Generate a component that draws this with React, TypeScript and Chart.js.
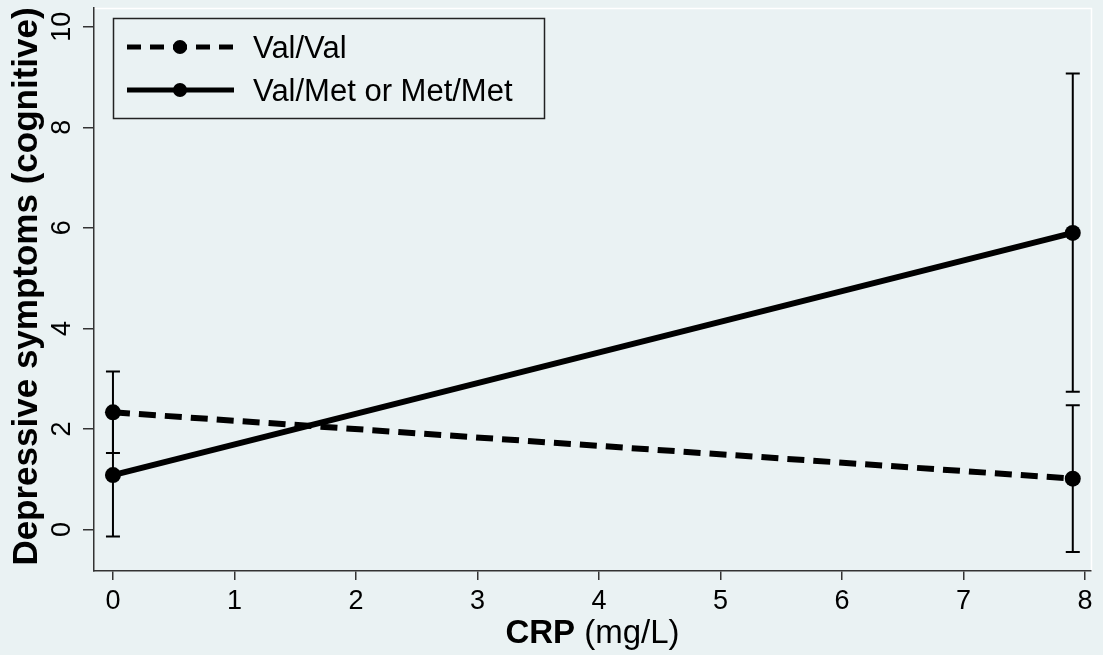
import React, { useEffect, useRef } from "react";
import { Chart, registerables } from "chart.js";

Chart.register(...registerables);

// ---- data ----
const crpValues = [0, 7.9];
const seriesLabels = ["Val/Val", "Val/Met or Met/Met"];
const valValMean = [2.33, 1.01];
const valValLow = [1.52, -0.45];
const valValHigh = [3.14, 2.47];
const valMetMean = [1.08, 5.9];
const valMetLow = [-0.14, 2.74];
const valMetHigh = [2.31, 9.07];
const xTicks = [0, 1, 2, 3, 4, 5, 6, 7, 8];
const yTicks = [0, 2, 4, 6, 8, 10];
const xTitleBold = "CRP";
const xTitleRest = " (mg/L)";
const yTitle = "Depressive symptoms (cognitive)";

const BG = "#EAF2F3";
const FONT = "'Liberation Sans', Arial, Helvetica, sans-serif";
const AXIS = "#333333";
const DASH = [17, 9];

const errorSets = [
  { low: valValLow, high: valValHigh },
  { low: valMetLow, high: valMetHigh },
];

const customPlugin = {
  id: "stataLook",
  beforeDraw(chart: any) {
    const ctx = chart.ctx;
    ctx.save();
    ctx.fillStyle = BG;
    ctx.fillRect(0, 0, chart.width, chart.height);
    const a = chart.chartArea;
    ctx.strokeStyle = "#FFFFFF";
    ctx.lineWidth = 1.5;
    ctx.beginPath();
    ctx.moveTo(a.left, a.top + 0.5);
    ctx.lineTo(a.right + 0.5, a.top + 0.5);
    ctx.lineTo(a.right + 0.5, a.bottom);
    ctx.stroke();
    ctx.restore();
  },
  beforeDatasetsDraw(chart: any) {
    const ctx = chart.ctx;
    const xs = chart.scales.x;
    const ys = chart.scales.y;
    ctx.save();
    ctx.strokeStyle = "#000";
    ctx.lineWidth = 2;
    ctx.setLineDash([]);
    errorSets.forEach((s) => {
      crpValues.forEach((xv, i) => {
        const px = xs.getPixelForValue(xv);
        const y1 = ys.getPixelForValue(s.low[i]);
        const y2 = ys.getPixelForValue(s.high[i]);
        ctx.beginPath();
        ctx.moveTo(px, y1);
        ctx.lineTo(px, y2);
        ctx.moveTo(px - 7, y1);
        ctx.lineTo(px + 7, y1);
        ctx.moveTo(px - 7, y2);
        ctx.lineTo(px + 7, y2);
        ctx.stroke();
      });
    });
    ctx.restore();
  },
  afterDraw(chart: any) {
    const ctx = chart.ctx;
    const xs = chart.scales.x;
    const ys = chart.scales.y;
    const a = chart.chartArea;
    ctx.save();
    ctx.fillStyle = "#000";

    // x tick labels
    ctx.font = `27px ${FONT}`;
    ctx.textAlign = "center";
    ctx.textBaseline = "alphabetic";
    xTicks.forEach((v) => {
      ctx.fillText(String(v), xs.getPixelForValue(v), 609);
    });

    // y tick labels (rotated)
    yTicks.forEach((v) => {
      ctx.save();
      ctx.translate(70, ys.getPixelForValue(v));
      ctx.rotate(-Math.PI / 2);
      ctx.textAlign = "center";
      ctx.fillText(String(v), 0, 0);
      ctx.restore();
    });

    // y title
    ctx.save();
    ctx.font = `bold 35px ${FONT}`;
    ctx.translate(37, (a.top + a.bottom) / 2 - 3);
    ctx.rotate(-Math.PI / 2);
    ctx.textAlign = "center";
    ctx.fillText(yTitle, 0, 0);
    ctx.restore();

    // x title (mixed weight)
    ctx.textAlign = "left";
    ctx.font = `bold 33px ${FONT}`;
    const wb = ctx.measureText(xTitleBold).width;
    ctx.font = `33px ${FONT}`;
    const wr = ctx.measureText(xTitleRest).width;
    const cx = (a.left + a.right) / 2;
    const sx = cx - (wb + wr) / 2;
    ctx.font = `bold 33px ${FONT}`;
    ctx.fillText(xTitleBold, sx, 643);
    ctx.font = `33px ${FONT}`;
    ctx.fillText(xTitleRest, sx + wb, 643);

    // legend
    ctx.strokeStyle = "#222";
    ctx.lineWidth = 1.5;
    ctx.setLineDash([]);
    ctx.strokeRect(113.5, 18.5, 431, 100);
    const rows = [47, 90];
    chart.data.datasets.forEach((ds: any, i: number) => {
      const ly = rows[i];
      ctx.strokeStyle = "#000";
      ctx.lineWidth = 5;
      ctx.setLineDash(ds.borderDash ? [14, 9] : []);
      ctx.beginPath();
      ctx.moveTo(127, ly);
      ctx.lineTo(234, ly);
      ctx.stroke();
      ctx.setLineDash([]);
      ctx.beginPath();
      ctx.arc(180, ly, 7, 0, Math.PI * 2);
      ctx.fillStyle = "#000";
      ctx.fill();
      ctx.font = `31px ${FONT}`;
      ctx.textAlign = "left";
      ctx.textBaseline = "alphabetic";
      ctx.fillText(ds.label, 253, ly + 11);
    });
    ctx.restore();
  },
};

export default function App() {
  const ref = useRef<HTMLCanvasElement | null>(null);

  useEffect(() => {
    if (!ref.current) return;
    const mk = (ys: number[]) => crpValues.map((x, i) => ({ x, y: ys[i] }));
    const chart = new Chart(ref.current, {
      type: "line",
      data: {
        datasets: [
          {
            label: seriesLabels[0],
            data: mk(valValMean),
            borderColor: "#000",
            backgroundColor: "#000",
            borderWidth: 6,
            borderDash: DASH,
            borderCapStyle: "butt",
            pointRadius: 8,
            pointBackgroundColor: "#000",
            pointBorderWidth: 0,
            tension: 0,
            fill: false,
          },
          {
            label: seriesLabels[1],
            data: mk(valMetMean),
            borderColor: "#000",
            backgroundColor: "#000",
            borderWidth: 6,
            borderCapStyle: "butt",
            pointRadius: 8,
            pointBackgroundColor: "#000",
            pointBorderWidth: 0,
            tension: 0,
            fill: false,
          },
        ],
      },
      options: {
        responsive: false,
        animation: false,
        devicePixelRatio: 1,
        layout: { padding: { top: 3, right: 12, left: 0, bottom: 0 } },
        plugins: {
          legend: { display: false },
          tooltip: { enabled: false },
          title: { display: false },
        },
        scales: {
          x: {
            type: "linear",
            min: -0.156,
            max: 8.05,
            afterBuildTicks: (s: any) => {
              s.ticks = xTicks.map((v) => ({ value: v }));
            },
            afterFit: (s: any) => {
              s.height = 84;
            },
            ticks: { display: false },
            grid: {
              drawOnChartArea: false,
              drawTicks: true,
              tickLength: 9,
              color: AXIS,
              lineWidth: 1.5,
            },
            border: { display: true, color: AXIS, width: 1.5 },
          },
          y: {
            type: "linear",
            min: -0.828,
            max: 10.375,
            afterBuildTicks: (s: any) => {
              s.ticks = yTicks.map((v) => ({ value: v }));
            },
            afterFit: (s: any) => {
              s.width = 94;
            },
            ticks: { display: false },
            grid: {
              drawOnChartArea: false,
              drawTicks: true,
              tickLength: 11,
              color: AXIS,
              lineWidth: 1.5,
            },
            border: { display: true, color: AXIS, width: 1.5 },
          },
        },
      },
      plugins: [customPlugin],
    } as any);
    return () => chart.destroy();
  }, []);

  return (
    <div
      style={{
        position: "fixed",
        left: 0,
        top: 0,
        width: 1103,
        height: 655,
        background: BG,
      }}
    >
      <canvas ref={ref} width={1103} height={655} style={{ display: "block" }} />
    </div>
  );
}
